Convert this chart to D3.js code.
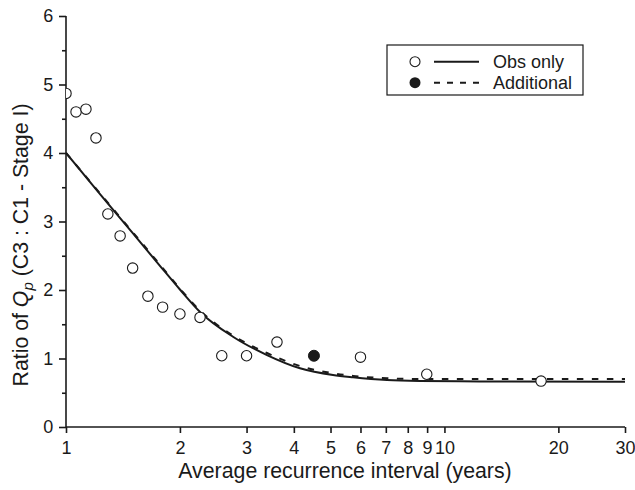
<!DOCTYPE html>
<html><head><meta charset="utf-8">
<script src="https://cdn.jsdelivr.net/npm/d3@7"></script>
<style>body{margin:0;background:#fff}svg{display:block;font-family:"Liberation Sans",Arial,sans-serif}</style>
</head><body><svg id="c" width="635" height="490"></svg>
<script>
// Observed points (open circles)
const obsX = [1.0, 1.063, 1.129, 1.2, 1.29, 1.39, 1.50, 1.646, 1.8, 2.0, 2.26, 2.58, 3.0, 3.61, 6.0, 8.98, 18.0];
const obsY = [4.87, 4.60, 4.64, 4.22, 3.11, 2.79, 2.32, 1.91, 1.75, 1.65, 1.60, 1.04, 1.04, 1.24, 1.02, 0.77, 0.67];
// Additional point (filled circle)
const addX = [4.52];
const addY = [1.04];
// Fitted curves
const fitX   = [1, 1.23, 1.503, 1.771, 2.0, 2.26, 2.762, 3.397, 4.152, 5.076, 5.733, 7.049, 8.617, 12.41, 30];
const fitObs = [4.00, 3.40, 2.826, 2.353, 2.007, 1.68, 1.318, 1.05, 0.857, 0.759, 0.726, 0.686, 0.672, 0.665, 0.66];
const fitAdd = [4.00, 3.41, 2.84, 2.37, 2.02, 1.70, 1.336, 1.08, 0.89, 0.784, 0.745, 0.711, 0.70, 0.70, 0.70];
// Ticks
const xTicks = [1,2,3,4,5,6,7,8,9,10,20,30];
const yTicks = [0,1,2,3,4,5,6];
const yMinor = [0.5,1.5,2.5,3.5,4.5,5.5];
const legendLabels = ["Obs only", "Additional"];

const svg = d3.select("#c");
const x = d3.scaleLog().domain([1,30]).range([66,625]);
const y = d3.scaleLinear().domain([0,6]).range([427,16]);
const ink = "#1a1a1a";

svg.append("defs").append("clipPath").attr("id","clip")
  .append("rect").attr("x",66).attr("y",0).attr("width",570).attr("height",427);

// axes
const xa = svg.append("g").attr("transform","translate(0,427)")
  .call(d3.axisBottom(x).tickValues(xTicks).tickFormat(d3.format("d")).tickSize(6).tickSizeOuter(0));
const ya = svg.append("g").attr("transform","translate(66,0)")
  .call(d3.axisLeft(y).tickValues(yTicks).tickFormat(d3.format("d")).tickSize(7).tickSizeOuter(0));
const ym = svg.append("g").attr("transform","translate(66,0)")
  .call(d3.axisLeft(y).tickValues(yMinor).tickFormat("").tickSize(4).tickSizeOuter(0));
ym.select(".domain").remove();
[xa,ya,ym].forEach(g=>{
  g.selectAll("path,line").attr("stroke",ink).attr("stroke-width",1.6);
  g.selectAll("text").attr("fill",ink).style("font-size","18px").style("font-family","'Liberation Sans',Arial,sans-serif");
});
xa.selectAll("text").attr("dy","1.0em");
ya.selectAll("text").attr("dx","-0.15em");
xa.select(".domain").attr("d","M66,0H625");
ya.select(".domain").attr("d","M0,16V427");

// axis titles
svg.append("text").attr("x",345).attr("y",478).attr("text-anchor","middle")
  .attr("fill",ink).style("font-size","21.3px").text("Average recurrence interval (years)");
const yt = svg.append("text").attr("transform","translate(28,245) rotate(-90)")
  .attr("text-anchor","middle").attr("fill",ink).style("font-size","21.3px");
yt.append("tspan").text("Ratio of ");
yt.append("tspan").style("font-style","italic").text("Q");
yt.append("tspan").style("font-style","italic").style("font-size","15px").attr("dy","5").text("p");
yt.append("tspan").attr("dy","-5").text(" (C3 : C1 - Stage I)");

// curves
const plot = svg.append("g").attr("clip-path","url(#clip)");
const line = d3.line().x(d=>x(d[0])).y(d=>y(d[1])).curve(d3.curveMonotoneX);
plot.append("path").datum(fitX.map((v,i)=>[v,fitObs[i]])).attr("d",line)
  .attr("fill","none").attr("stroke",ink).attr("stroke-width",2);
plot.append("path").datum(fitX.map((v,i)=>[v,fitAdd[i]])).attr("d",line)
  .attr("fill","none").attr("stroke",ink).attr("stroke-width",2).attr("stroke-dasharray","6.5,8.5");

// points
plot.selectAll("circle.o").data(obsX.map((v,i)=>[v,obsY[i]])).join("circle")
  .attr("class","o").attr("cx",d=>x(d[0])).attr("cy",d=>y(d[1])).attr("r",5.2)
  .attr("fill","#fff").attr("stroke",ink).attr("stroke-width",1.1);
plot.selectAll("circle.a").data(addX.map((v,i)=>[v,addY[i]])).join("circle")
  .attr("class","a").attr("cx",d=>x(d[0])).attr("cy",d=>y(d[1])).attr("r",5.5)
  .attr("fill",ink).attr("stroke",ink).attr("stroke-width",1);

// legend
const lg = svg.append("g");
lg.append("rect").attr("x",387).attr("y",45).attr("width",196).attr("height",50)
  .attr("fill","#fff").attr("stroke",ink).attr("stroke-width",1.2);
const rows = [61.7, 82.7];
lg.append("circle").attr("cx",415).attr("cy",rows[0]).attr("r",5).attr("fill","#fff").attr("stroke",ink).attr("stroke-width",1.1);
lg.append("circle").attr("cx",415).attr("cy",rows[1]).attr("r",5.5).attr("fill",ink);
lg.append("line").attr("x1",434).attr("x2",479).attr("y1",rows[0]).attr("y2",rows[0]).attr("stroke",ink).attr("stroke-width",2);
lg.append("line").attr("x1",434).attr("x2",479).attr("y1",rows[1]).attr("y2",rows[1]).attr("stroke",ink).attr("stroke-width",2).attr("stroke-dasharray","6,7");
legendLabels.forEach((t,i)=>{
  lg.append("text").attr("x",493).attr("y",rows[i]).attr("dy","0.35em").attr("fill",ink)
    .style("font-size","18px").text(t);
});
</script></body></html>
